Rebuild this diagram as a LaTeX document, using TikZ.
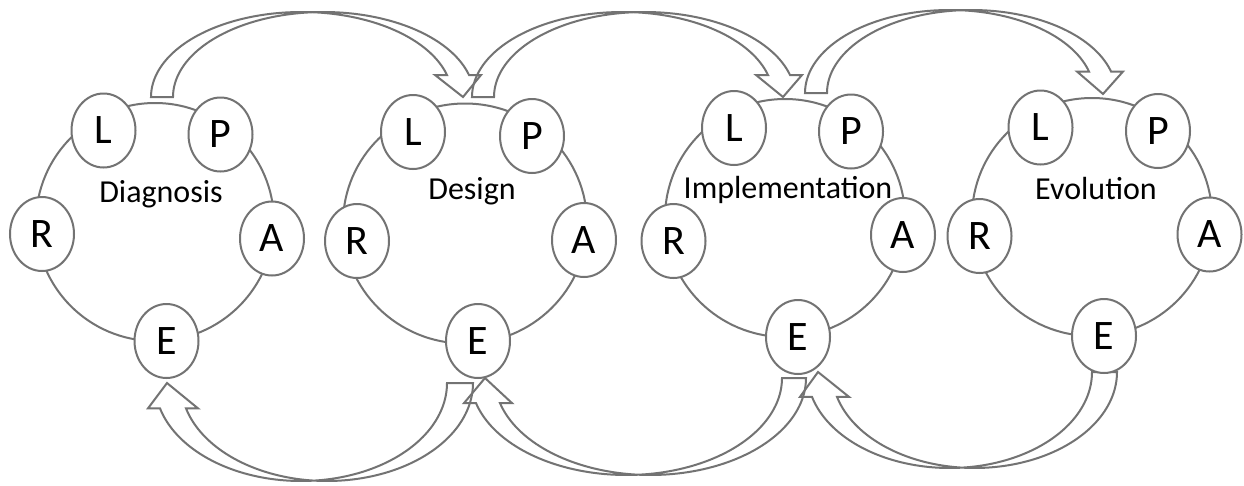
\documentclass[tikz,border=0pt]{standalone}
\usepackage{fontspec}
\setmainfont{Carlito}
\usetikzlibrary{shapes.geometric}
\definecolor{lineg}{RGB}{115,115,115}
\tikzset{
  ring/.style={ellipse, draw=lineg, line width=2pt, inner sep=0pt},
  stage/.style={ellipse, draw=lineg, line width=2pt, fill=white, inner sep=0pt,
    minimum width=64pt, minimum height=74pt, font=\fontsize{42}{42}\selectfont},
  phase/.style={anchor=base, inner sep=0pt, font=\fontsize{32}{32}\selectfont},
  blockarrow/.style={draw=lineg, line width=2pt, line join=miter}
}
\newcommand{\TopArr}[7]{%
  \pgfmathsetmacro{\rxT}{(#4-#1)/(1+cos(15))}%
  \pgfmathsetmacro{\cxT}{#1+\rxT}%
  \pgfmathsetmacro{\ybT}{#2-#3*sin(15)}%
  \draw[blockarrow] plot[domain=180:15,samples=90] ({\cxT+\rxT*cos(\x)},{#2-#3*sin(\x)})
    -- ({#4-12},\ybT) -- (#6,#7) -- ({#4+#5+12},\ybT) -- ({#4+#5},\ybT)
    -- plot[domain=15:180,samples=90] ({\cxT+#5+\rxT*cos(\x)},{#2-#3*sin(\x)}) -- cycle;
}
\newcommand{\BotArr}[7]{%
  \pgfmathsetmacro{\rxB}{(#1-#4)/(1+cos(15))}%
  \pgfmathsetmacro{\cxB}{#1-\rxB}%
  \pgfmathsetmacro{\ybB}{#2+#3*sin(15)}%
  \draw[blockarrow] plot[domain=0:165,samples=90] ({\cxB+\rxB*cos(\x)},{#2+#3*sin(\x)})
    -- ({#4+12},\ybB) -- (#6,#7) -- ({#4-#5-12},\ybB) -- ({#4-#5},\ybB)
    -- plot[domain=165:0,samples=90] ({\cxB-#5+\rxB*cos(\x)},{#2+#3*sin(\x)}) -- cycle;
}
\begin{document}
\begin{tikzpicture}[x=1pt,y=-1pt]
\useasboundingbox[fill=white] (0,0) rectangle (1244,485);
% rings
\node[ring, minimum width=238pt, minimum height=238pt] (ring1) at (155,222) {};
\node[ring, minimum width=244pt, minimum height=240pt] (ring2) at (465,223.5) {};
\node[ring, minimum width=240pt, minimum height=238pt] (ring3) at (785,218) {};
\node[ring, minimum width=240pt, minimum height=238pt] (ring4) at (1092,217) {};
% top arrows
\TopArr{151}{97}{85}{447}{22}{463}{97}
\TopArr{472}{97}{85}{768}{22}{783}{97}
\TopArr{805}{93}{83}{1089}{22}{1103}{94}
% bottom arrows
\BotArr{473}{383}{98}{186}{26}{167}{383}
\BotArr{806}{378}{97}{500}{24}{485}{378}
\BotArr{1117}{372}{96}{837}{25}{818}{372}
% stage 1
\node[stage] (l1) at (103.5,130.5) {L};
\node[stage] (p1) at (220.5,134.5) {P};
\node[stage] (r1) at (42,234) {R};
\node[stage] (a1) at (272,238.5) {A};
\node[stage] (e1) at (166.5,341) {E};
% stage 2
\node[stage] (l2) at (413,132) {L};
\node[stage] (p2) at (532,136) {P};
\node[stage] (r2) at (357,241) {R};
\node[stage] (a2) at (584,240) {A};
\node[stage] (e2) at (478,341) {E};
% stage 3
\node[stage] (l3) at (734,128) {L};
\node[stage] (p3) at (851,131.5) {P};
\node[stage] (r3) at (673.5,241) {R};
\node[stage] (a3) at (903,235) {A};
\node[stage] (e3) at (798,337) {E};
% stage 4
\node[stage] (l4) at (1040.5,127.5) {L};
\node[stage] (p4) at (1158,131) {P};
\node[stage] (r4) at (979.5,236) {R};
\node[stage] (a4) at (1209.5,234.5) {A};
\node[stage] (e4) at (1104,336) {E};
% phase labels
\node[phase] (t1) at (161,202) {Diagnosis};
\node[phase] (t2) at (472,199) {Design};
\node[phase] (t3) at (788,198) {Implementation};
\node[phase] (t4) at (1096,199) {Evolution};
\end{tikzpicture}
\end{document}
